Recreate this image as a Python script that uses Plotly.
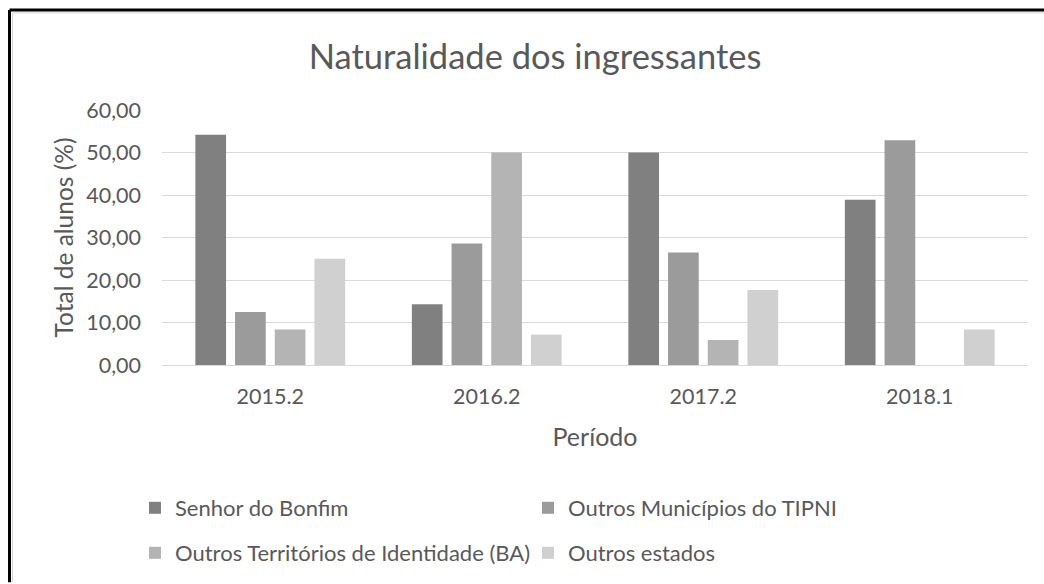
import plotly.graph_objects as go

# ---- data ----
periods = ["2015.2", "2016.2", "2017.2", "2018.1"]
senhor_do_bonfim = [54.17, 14.29, 50.00, 38.89]
outros_municipios_tipni = [12.50, 28.57, 26.47, 52.90]
outros_territorios_ba = [8.33, 50.00, 5.88, 0.00]
outros_estados = [25.00, 7.14, 17.65, 8.33]

series_names = [
    "Senhor do Bonfim",
    "Outros Municípios do TIPNI",
    "Outros Territórios de Identidade (BA)",
    "Outros estados",
]
series_values = [senhor_do_bonfim, outros_municipios_tipni, outros_territorios_ba, outros_estados]
series_colors = ["#808080", "#9b9b9b", "#b4b4b4", "#d0d0d0"]
y_ticks = [0, 10, 20, 30, 40, 50, 60]

# ---- layout geometry (pixels) ----
W, H = 1044, 584
L, R, T, B = 162, 16, 110, 218
PW, PH = W - L - R, H - T - B


def px_x(px):
    return (px - L) / PW


def px_y(py):
    return (H - B - py) / PH


FONT = "Lato, 'Open Sans', sans-serif"
TXT = "#595959"

fig = go.Figure()
legend_ids = ["legend", "legend2", "legend3", "legend4"]
for name, vals, col, lg in zip(series_names, series_values, series_colors, legend_ids):
    fig.add_trace(go.Bar(
        x=periods, y=vals, name=name, legend=lg,
        marker=dict(color=col, line=dict(width=0)),
        hovertemplate="%{x}: %{y:.2f}<extra>" + name + "</extra>",
    ))

# legend positions: (item origin px, row center px)
leg_pos = [(135, 508), (528, 508), (135, 553), (528, 553)]
leg_common = dict(orientation="h", xanchor="left", yanchor="middle",
                  font=dict(family=FONT, size=22, color=TXT),
                  bgcolor="rgba(0,0,0,0)", itemclick=False, itemdoubleclick=False)
legends = {}
for lg, (lx, ly) in zip(legend_ids, leg_pos):
    legends[lg] = dict(x=px_x(lx), y=px_y(ly), **leg_common)

frame_l, frame_t = 9.5, 9.5
x_end, y_end = W, H
shapes = [
    # outer black frame (cut at right and bottom like the reference)
    dict(type="line", xref="paper", yref="paper", x0=px_x(frame_l), x1=px_x(x_end),
         y0=px_y(frame_t), y1=px_y(frame_t), line=dict(color="#000000", width=3)),
    dict(type="line", xref="paper", yref="paper", x0=px_x(frame_l), x1=px_x(frame_l),
         y0=px_y(frame_t), y1=px_y(y_end), line=dict(color="#000000", width=3)),
    dict(type="line", xref="paper", yref="paper", x0=px_x(12.5), x1=px_x(x_end),
         y0=px_y(12.5), y1=px_y(12.5), line=dict(color="#d4d4d4", width=1)),
    dict(type="line", xref="paper", yref="paper", x0=px_x(12.5), x1=px_x(12.5),
         y0=px_y(12.5), y1=px_y(y_end), line=dict(color="#d4d4d4", width=1)),
]

fig.update_layout(
    width=W, height=H,
    margin=dict(l=L, r=R, t=T, b=B, pad=0),
    paper_bgcolor="white", plot_bgcolor="white",
    separators=",.",
    font=dict(family=FONT, color=TXT),
    title=dict(text="Naturalidade dos ingressantes", xref="container", yref="container",
               x=535 / W, y=1 - 57 / H, xanchor="center", yanchor="middle",
               font=dict(family=FONT, size=34.5, color=TXT)),
    barmode="group", bargap=0.2665, bargroupgap=0.227,
    xaxis=dict(
        title=dict(text="Período", font=dict(family=FONT, size=25, color=TXT), standoff=20),
        tickfont=dict(family=FONT, size=21.5, color=TXT),
        showgrid=False, showline=False, zeroline=False, ticks="",
        ticklabelstandoff=16,
    ),
    yaxis=dict(
        title=dict(text="Total de alunos (%)", font=dict(family=FONT, size=24.5, color=TXT), standoff=5),
        tickfont=dict(family=FONT, size=21.5, color=TXT),
        range=[0, 60], tickvals=y_ticks, tickformat=".2f",
        showgrid=True, gridcolor="#d9d9d9", gridwidth=1,
        zeroline=True, zerolinecolor="#d9d9d9", zerolinewidth=1,
        showline=False, ticks="", ticklabelstandoff=20,
    ),
    shapes=shapes,
    showlegend=True,
    **legends,
)

fig.write_html(
    "out.html",
    config={"displayModeBar": False},
    post_script=(
        "document.documentElement.style.overflow='hidden';"
        "document.body.style.margin='0';document.body.style.overflow='hidden';"
    ),
)
